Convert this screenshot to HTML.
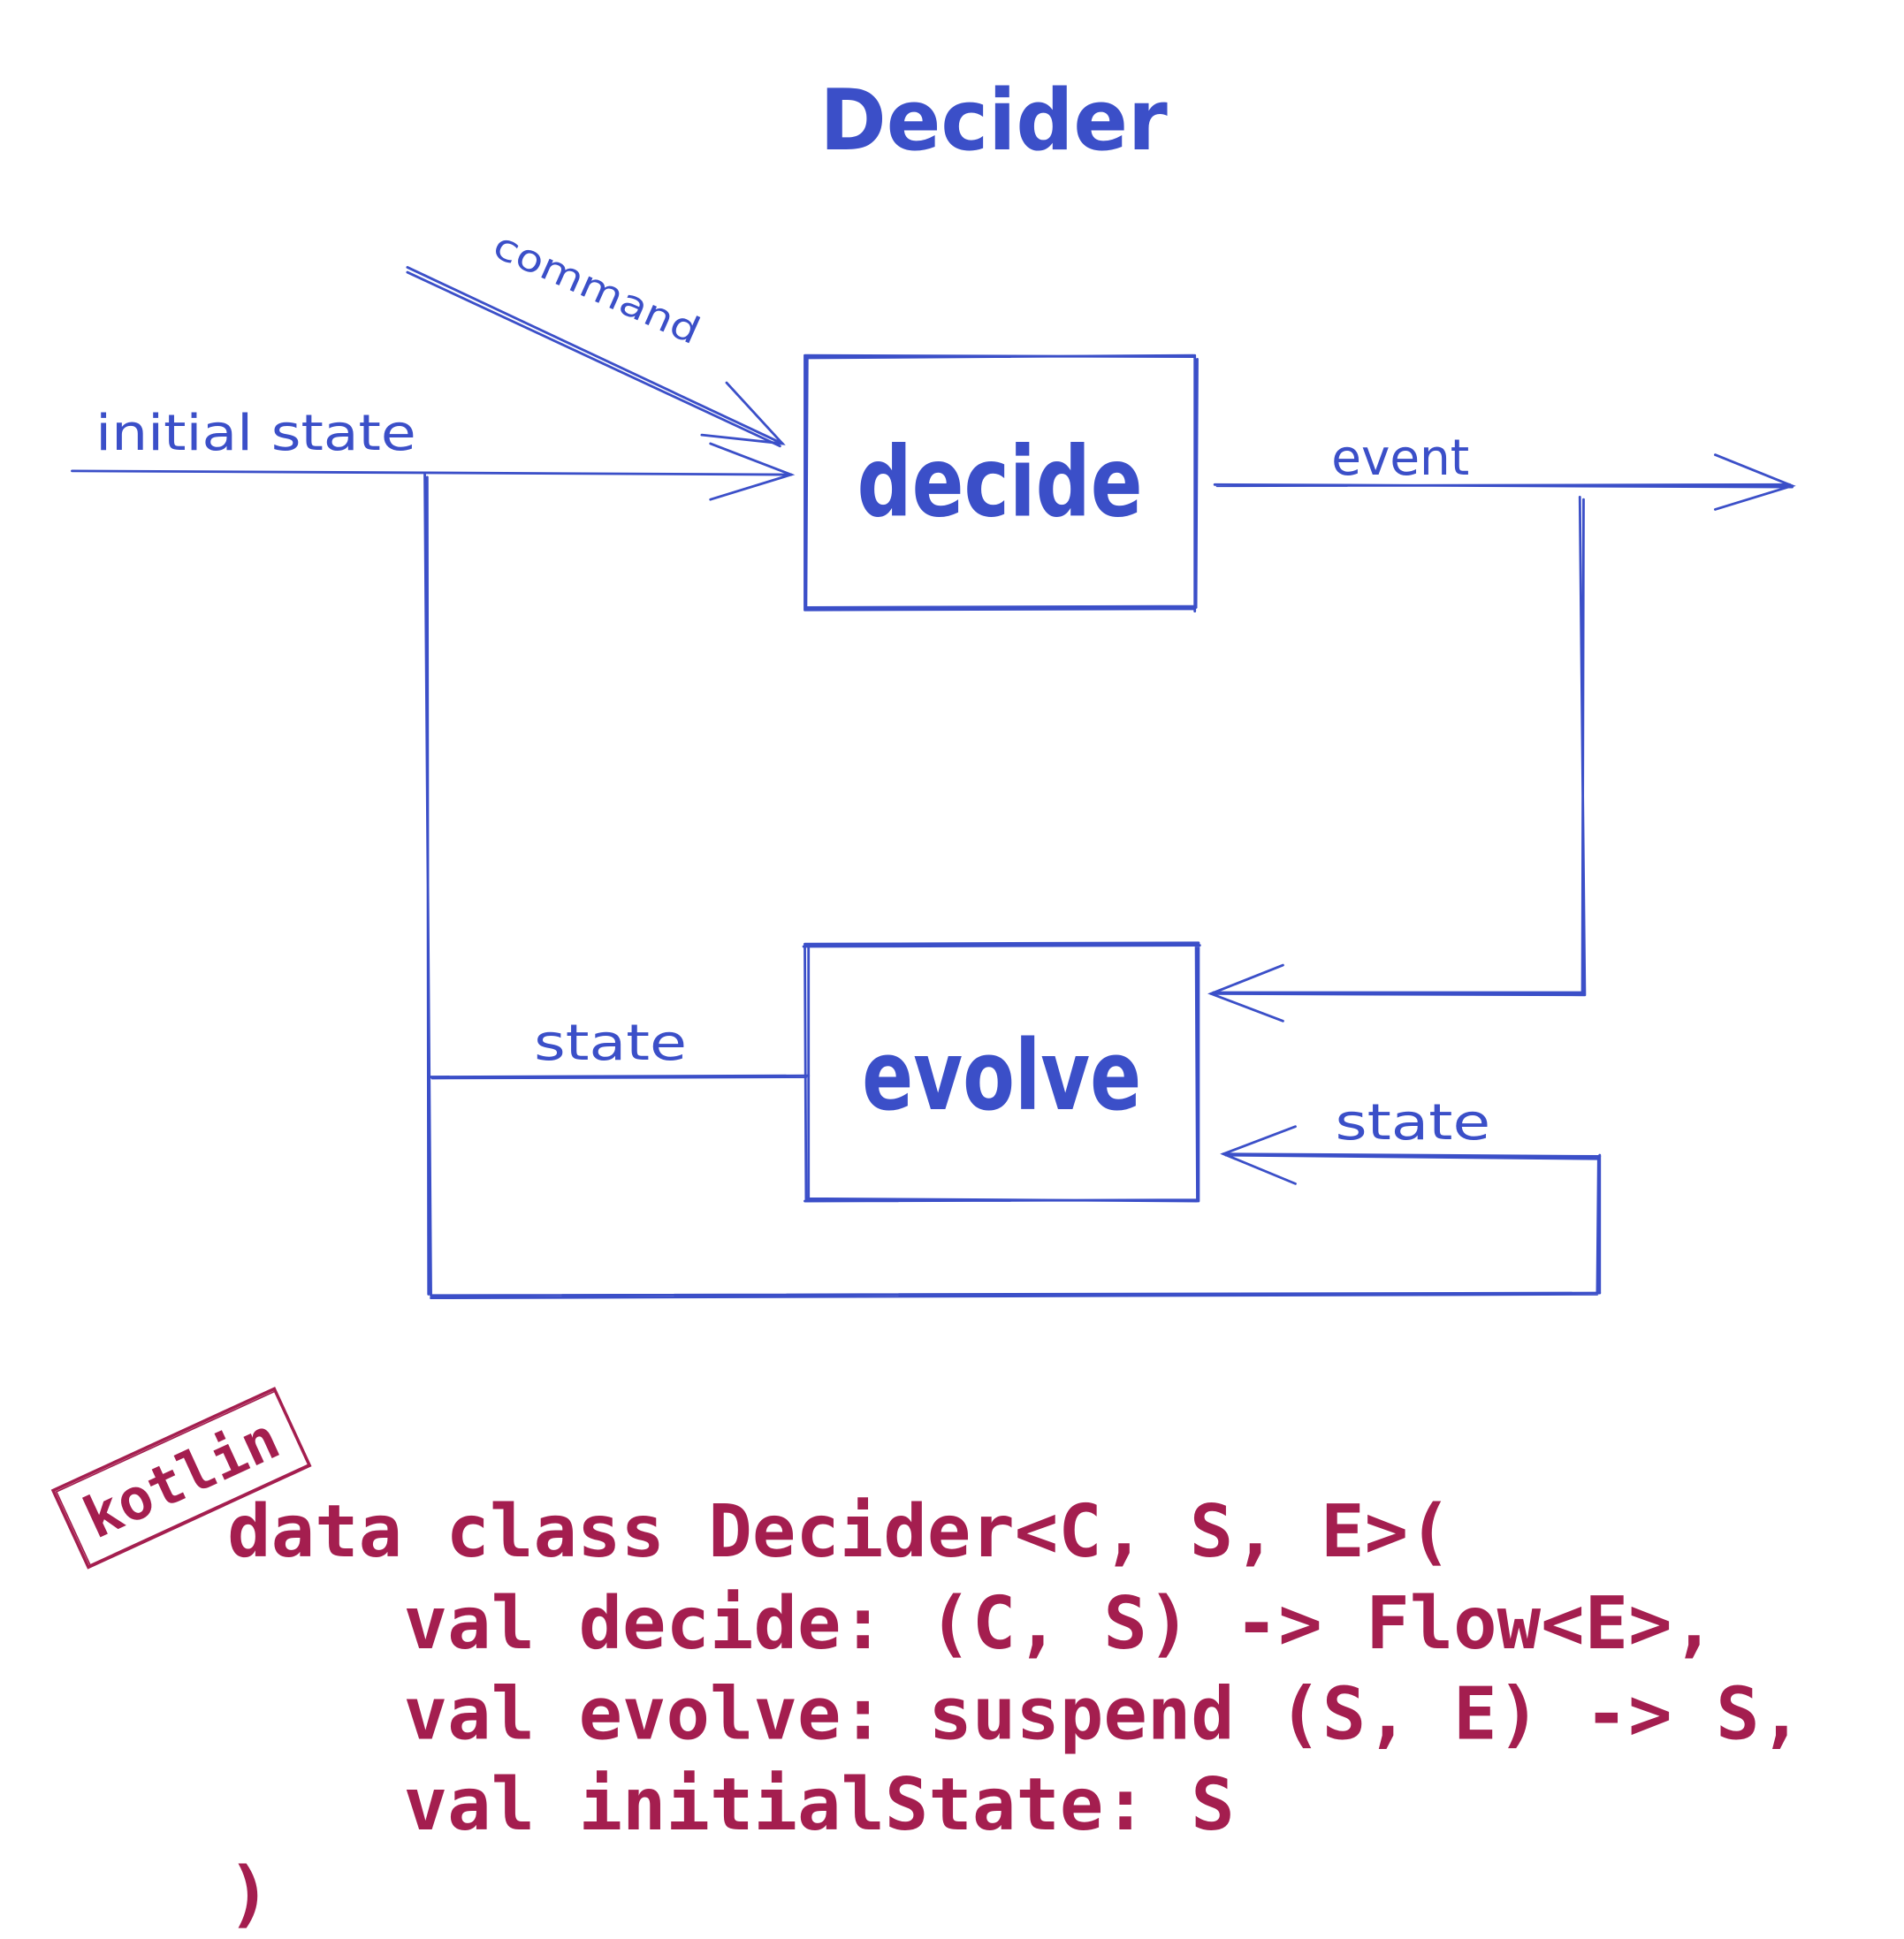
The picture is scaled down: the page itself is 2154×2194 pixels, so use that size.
<!DOCTYPE html>
<html><head><meta charset="utf-8"><style>
html,body{margin:0;padding:0;background:#fff;}
svg{display:block;}
</style></head><body>
<svg width="2154" height="2194" viewBox="0 0 1533 1561" xmlns="http://www.w3.org/2000/svg">
<rect width="1533" height="1561" fill="#fff"/>
<g fill="none" stroke="#3b4fc8" stroke-width="2" stroke-linecap="round">
  <path d="M328 215 L630 357 M328 219 L628 359"/>
  <path d="M585 308 L630 357 L565 350"/>
  <path d="M58 379 L637 382"/>
  <path d="M572 357 L637 382 L572 402"/>
  <path d="M648 286 L962 287 M649 288 L961 286 M648 286 L648 491 M650 288 L649 489 M648 491 L962 490 M649 489 L963 488 M962 286 L962 492 M964 289 L963 489"/>
  <path d="M978 390 L1443 392 M980 391 L1441 390"/>
  <path d="M1381 366 L1443 391 L1381 410"/>
  <path d="M1272 400 L1276 801 M1275 402 L1274 800 M1276 801 L975 800 M1276 799 L977 799"/>
  <path d="M1033 777 L975 800 L1033 822"/>
  <path d="M648 760 L965 759 M647 762 L966 761 M648 760 L649 967 M651 762 L651 966 M648 967 L965 966 M650 965 L964 967 M965 759 L965 967 M963 761 L964 966"/>
  <path d="M342 382 L347 1043 M344 384 L345 1042"/>
  <path d="M347 1043 L1288 1041 M347 1045 L1286 1042"/>
  <path d="M1288 1041 L1288 930 M1286 1040 L1287 931"/>
  <path d="M1288 931 L985 929 M1286 933 L987 930"/>
  <path d="M1043 907 L985 929 L1043 953"/>
  <path d="M346 867 L651 866 M348 868 L649 867"/>
</g>
<g fill="#3b4fc8" font-family="'DejaVu Sans', 'Liberation Sans', sans-serif">
  <text x="660" y="120" font-size="68" font-weight="bold" textLength="280" lengthAdjust="spacingAndGlyphs">Decider</text>
  <text x="690" y="415" font-size="78" font-weight="bold" textLength="230" lengthAdjust="spacingAndGlyphs">decide</text>
  <text x="694" y="893" font-size="78" font-weight="bold" textLength="225" lengthAdjust="spacingAndGlyphs">evolve</text>
  <text x="77" y="362" font-size="40" textLength="258" lengthAdjust="spacingAndGlyphs">initial state</text>
  <text x="1072" y="382" font-size="40" textLength="111" lengthAdjust="spacingAndGlyphs">event</text>
  <text x="430" y="853" font-size="40" textLength="123" lengthAdjust="spacingAndGlyphs">state</text>
  <text x="1075" y="917" font-size="40" textLength="125" lengthAdjust="spacingAndGlyphs">state</text>
  <text x="0" y="0" font-size="30" transform="translate(395 205) rotate(24)" textLength="178" lengthAdjust="spacingAndGlyphs">command</text>
</g>
<g transform="translate(146 1190) rotate(-24.7)">
  <rect x="-98" y="-34" width="196" height="68" fill="none" stroke="#a41e4f" stroke-width="2.5"/>
  <rect x="-96" y="-32" width="194" height="65" fill="none" stroke="#a41e4f" stroke-width="1.2"/>
  <text x="0" y="16" font-size="46" text-anchor="middle" fill="#a41e4f" font-family="'DejaVu Sans Mono','Liberation Mono',monospace" font-weight="bold">kotlin</text>
</g>
<g fill="#a41e4f" font-family="'DejaVu Sans Mono','Liberation Mono',monospace" font-size="58.5" font-weight="bold" xml:space="preserve">
  <text x="183" y="1253">data class Decider&lt;C, S, E&gt;(</text>
  <text x="325" y="1327">val decide: (C, S) -&gt; Flow&lt;E&gt;,</text>
  <text x="325" y="1400">val evolve: suspend (S, E) -&gt; S,</text>
  <text x="325" y="1473">val initialState: S</text>
  <text x="183" y="1545">)</text>
</g>
</svg>
</body></html>
